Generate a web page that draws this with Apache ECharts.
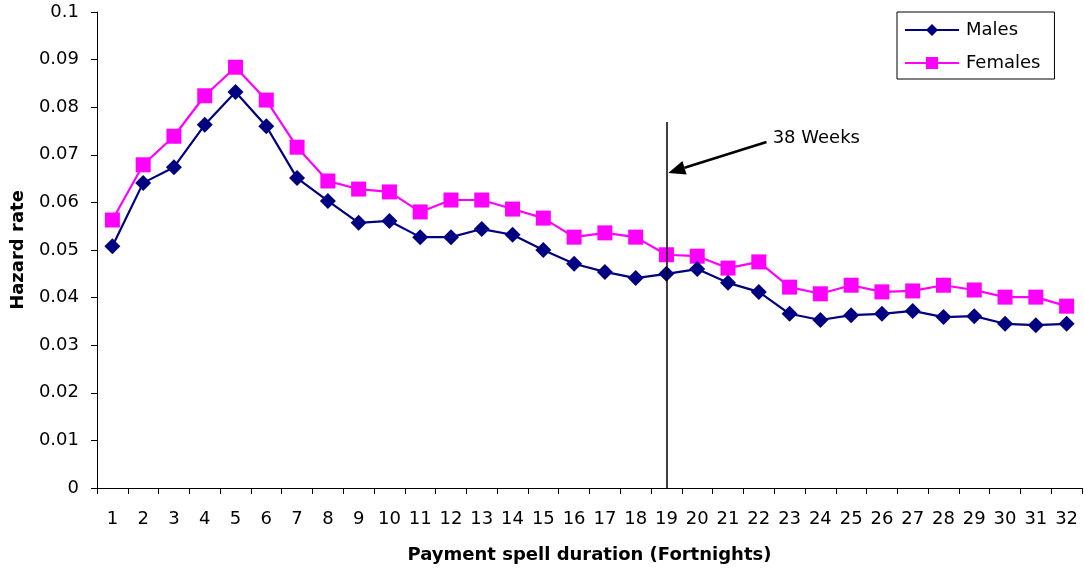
<!DOCTYPE html>
<html>
<head>
<meta charset="utf-8">
<script src="https://cdn.jsdelivr.net/npm/echarts@6/dist/echarts.min.js"></script>
<style>
html,body{margin:0;padding:0;background:#fff;}
#chart{width:1084px;height:569px;}
</style>
</head>
<body>
<div id="chart"></div>
<script>
var categories = ['1','2','3','4','5','6','7','8','9','10','11','12','13','14','15','16','17','18','19','20','21','22','23','24','25','26','27','28','29','30','31','32'];
var males = [0.0508,0.0641,0.0674,0.0763,0.0832,0.0760,0.0651,0.0603,0.0557,0.0561,0.0527,0.0527,0.0544,0.0532,0.0500,0.0471,0.0454,0.0441,0.0450,0.0460,0.0431,0.0412,0.0366,0.0353,0.0363,0.0366,0.0372,0.0359,0.0361,0.0345,0.0342,0.0345];
var females = [0.0563,0.0679,0.0739,0.0824,0.0884,0.0815,0.0716,0.0645,0.0628,0.0622,0.0580,0.0605,0.0605,0.0586,0.0567,0.0527,0.0536,0.0527,0.0490,0.0487,0.0462,0.0475,0.0422,0.0408,0.0426,0.0412,0.0414,0.0426,0.0416,0.0401,0.0401,0.0382];
var markerCategory = '19';
var markerTop = 0.0769;
var annotationText = '38 Weeks';

var FONT = '"DejaVu Sans", "Liberation Sans", Arial, sans-serif';
var chart = echarts.init(document.getElementById('chart'), null, {renderer: 'canvas'});
var option = {
  animation: false,
  backgroundColor: '#fff',
  grid: {left: 97, right: 2, top: 12, bottom: 81, containLabel: false},
  legend: {
    orient: 'vertical',
    left: 897, top: 12,
    padding: [9, 14, 7, 7],
    borderColor: '#000', borderWidth: 1,
    itemWidth: 54, itemHeight: 15, itemGap: 15,
    textStyle: {fontFamily: FONT, fontSize: 18, color: '#000', padding: [0, 0, 0, 2]},
    data: ['Males', 'Females']
  },
  xAxis: {
    type: 'category',
    data: categories,
    boundaryGap: true,
    name: 'Payment spell duration (Fortnights)',
    nameLocation: 'middle',
    nameGap: 58,
    nameTextStyle: {fontFamily: FONT, fontSize: 18, fontWeight: 'bold', color: '#000'},
    axisLine: {lineStyle: {color: '#000', width: 1}},
    axisTick: {show: true, alignWithLabel: false, length: 6, lineStyle: {color: '#000'}},
    axisLabel: {fontFamily: FONT, fontSize: 18, color: '#000', margin: 22, interval: 0},
    splitLine: {show: false}
  },
  yAxis: {
    type: 'value',
    min: 0, max: 0.1, interval: 0.01,
    name: 'Hazard rate',
    nameLocation: 'middle',
    nameGap: 70,
    nameRotate: 90,
    nameTextStyle: {fontFamily: FONT, fontSize: 18, fontWeight: 'bold', color: '#000'},
    axisLine: {show: true, lineStyle: {color: '#000', width: 1}},
    axisTick: {show: true, length: 6, lineStyle: {color: '#000'}},
    axisLabel: {fontFamily: FONT, fontSize: 18, color: '#000', margin: 18,
      formatter: function (v) { return String(Math.round(v * 100) / 100); }},
    splitLine: {show: false}
  },
  series: [
    {
      name: 'Males', type: 'line', data: males,
      symbol: 'diamond', symbolSize: 16,
      lineStyle: {color: '#000080', width: 2.2},
      itemStyle: {color: '#000080'},
      z: 3,
      markLine: {
        silent: true, symbol: ['none', 'none'],
        label: {show: false},
        lineStyle: {color: '#000', width: 1.5, type: 'solid'},
        data: [[{xAxis: markerCategory, yAxis: 0}, {xAxis: markerCategory, yAxis: markerTop}]]
      }
    },
    {
      name: 'Females', type: 'line', data: females,
      symbol: 'rect', symbolSize: 15,
      lineStyle: {color: '#FF00FF', width: 2.2},
      itemStyle: {color: '#FF00FF'},
      z: 2
    }
  ]
};
chart.setOption(option);

// annotation arrow positioned in data space (fractional category position interpolated)
function toPx(catPos, val) {
  var i = Math.floor(catPos), f = catPos - i;
  var a = chart.convertToPixel({xAxisIndex: 0, yAxisIndex: 0}, [i, val]);
  var b = chart.convertToPixel({xAxisIndex: 0, yAxisIndex: 0}, [i + 1, val]);
  return [a[0] + (b[0] - a[0]) * f, a[1]];
}
var p0 = toPx(21.25, 0.0727);
var p1 = toPx(18.06, 0.0662);
var dx = p1[0] - p0[0], dy = p1[1] - p0[1];
var len = Math.sqrt(dx * dx + dy * dy);
var ux = dx / len, uy = dy / len;
var headLen = 17, headW = 7;
var bx = p1[0] - ux * headLen, by = p1[1] - uy * headLen;
var pt = toPx(21.45, 0.0735);
chart.setOption({
  graphic: [
    {type: 'line', silent: true, z: 10,
      shape: {x1: p0[0], y1: p0[1], x2: bx, y2: by},
      style: {stroke: '#000', lineWidth: 2.5}},
    {type: 'polygon', silent: true, z: 10,
      shape: {points: [[p1[0], p1[1]], [bx - uy * headW, by + ux * headW], [bx + uy * headW, by - ux * headW]]},
      style: {fill: '#000'}},
    {type: 'text', silent: true, z: 10,
      x: pt[0], y: pt[1],
      style: {text: annotationText, fontFamily: FONT, fontSize: 18, fill: '#000', verticalAlign: 'middle'}}
  ]
});
</script>
</body>
</html>
